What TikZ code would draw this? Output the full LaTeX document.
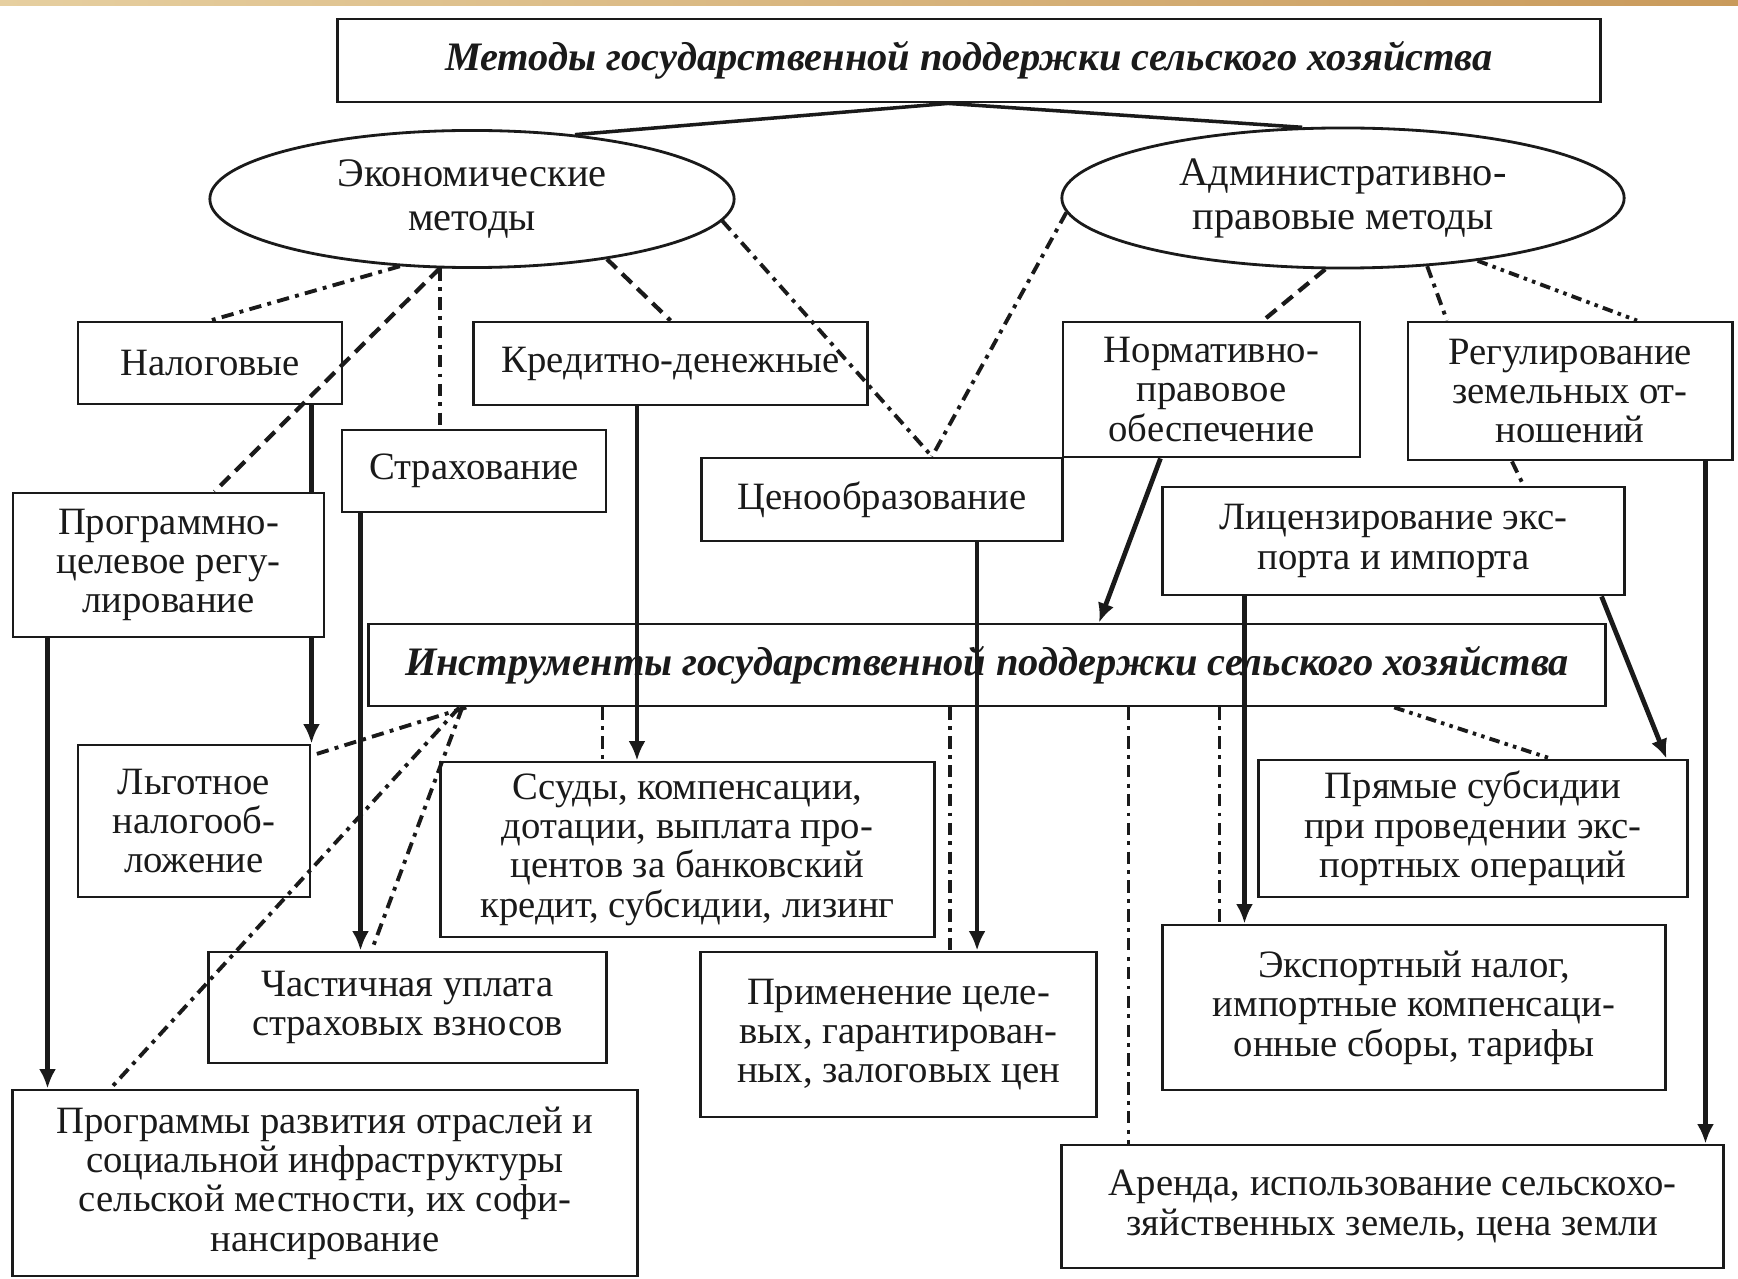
\documentclass[tikz,border=0pt]{standalone}
\usepackage{fontspec}
\setmainfont{Liberation Serif}
\usetikzlibrary{arrows.meta,calc,shapes.geometric,backgrounds}
\definecolor{cink}{HTML}{1A1A1A}
\definecolor{cgoldA}{HTML}{E6CFA0}
\definecolor{cgoldB}{HTML}{F8EDD6}
\definecolor{cgoldC}{HTML}{C99A5B}

\begin{document}
\begin{tikzpicture}[
    x={(0.01cm,0cm)}, y={(0cm,-0.01cm)},
    >={Latex[length=5.5pt,width=4.8pt]},
    bx/.style={draw=cink, line width=0.8pt, inner sep=0pt, align=center, text=cink,
      font=\fontsize{11}{11.2}\selectfont},
    elps/.style={ellipse, draw=cink, line width=0.8pt, inner sep=0pt, align=center, text=cink,
      font=\fontsize{11.5}{12.5}\selectfont},
    head/.style={bx, font=\fontsize{11.5}{12}\selectfont\bfseries\itshape},
    arr/.style={->, line width=1.35pt, draw=cink},
    link/.style={line width=1pt, draw=cink},
    dd/.style={line width=1.1pt, draw=cink, dash pattern=on 3.5pt off 1.8pt on 1.1pt off 1.8pt},
    ds/.style={line width=1.2pt, draw=cink, dash pattern=on 3.8pt off 2.2pt},
    ddd/.style={line width=1.1pt, draw=cink, dash pattern=on 3pt off 1.5pt on 1pt off 1.5pt on 1pt off 1.5pt},
  ]
  \useasboundingbox (0,0) rectangle (1738,1279);
  \shade[left color=cgoldA, middle color=cgoldB, right color=cgoldC] (0,0) rectangle (1738,6);

  % methods
  \node[head, minimum width=12.62cm, minimum height=0.83cm] (top) at (969,60.5)
    {Методы государственной поддержки сельского хозяйства};
  \node[elps, minimum width=5.24cm, minimum height=1.37cm] (econ) at (472,199) {Экономические\\методы};
  \node[elps, minimum width=5.62cm, minimum height=1.40cm] (admin) at (1343,198) {Административно-\\правовые методы};

  \node[bx, minimum width=2.64cm, minimum height=0.82cm] (nalog) at (210,363) {Налоговые};
  \node[bx, minimum width=3.93cm, minimum height=0.83cm] (kred) at (670.5,363.5) {Кредитно-денежные};
  \node[bx, minimum width=2.64cm, minimum height=0.82cm] (strah) at (474,471) {Страхование};
  \node[bx, fill=white, minimum width=3.11cm, minimum height=1.44cm] (progc) at (168.5,565)
    {Программно-\\целевое регу-\\лирование};
  \node[bx, minimum width=3.60cm, minimum height=0.83cm] (cena) at (882,499.5) {Ценообразование};
  \node[bx, minimum width=2.97cm, minimum height=1.35cm] (norm) at (1211.5,389.5)
    {Нормативно-\\правовое\\обеспечение};
  \node[bx, minimum width=3.24cm, minimum height=1.38cm] (zem) at (1570,391)
    {Регулирование\\земельных от-\\ношений};
  \node[bx, minimum width=4.61cm, minimum height=1.08cm] (lic) at (1393.5,541)
    {Лицензирование экс-\\порта и импорта};

  % instruments
  \node[head, minimum width=12.36cm, minimum height=0.82cm] (instr) at (987,665)
    {Инструменты государственной поддержки сельского хозяйства};
  \node[bx, minimum width=2.32cm, minimum height=1.52cm] (lgot) at (194,821) {Льготное\\налогооб-\\ложение};
  \node[bx, minimum width=4.93cm, minimum height=1.75cm] (ssud) at (687.5,849.5)
    {Ссуды, компенсации,\\дотации, выплата про-\\центов за банковский\\кредит, субсидии, лизинг};
  \node[bx, minimum width=4.28cm, minimum height=1.37cm] (pryam) at (1473,828.5)
    {Прямые субсидии\\при проведении экс-\\портных операций};
  \node[bx, minimum width=3.97cm, minimum height=1.11cm] (chast) at (407.5,1007.5)
    {Частичная уплата\\страховых взносов};
  \node[bx, minimum width=3.95cm, minimum height=1.65cm] (prim) at (898.5,1034.5)
    {Применение целе-\\вых, гарантирован-\\ных, залоговых цен};
  \node[bx, minimum width=5.02cm, minimum height=1.65cm] (eksp) at (1414,1007.5)
    {Экспортный налог,\\импортные компенсаци-\\онные сборы, тарифы};
  \node[bx, minimum width=6.24cm, minimum height=1.86cm] (progr) at (325,1183)
    {Программы развития отраслей и\\социальной инфраструктуры\\сельской местности, их софи-\\нансирование};
  \node[bx, minimum width=6.61cm, minimum height=1.23cm] (arenda) at (1392.5,1206.5)
    {Аренда, использование сельскохо-\\зяйственных земель, цена земли};

  \begin{scope}[on background layer]
    \draw[link] ([xshift=-0.21cm]top.south) -- (econ.32);
    \draw[link] ([xshift=-0.21cm]top.south) -- (admin.120);
    % economic methods
    \draw[dd] (econ.223) -- (nalog.north);
    \draw[ds] (econ.245) -- ([xshift=0.46cm]progc.north);
    \draw[dd] (econ.245) -- (econ.245 |- strah.north);
    \draw[ds] (econ.336) -- (kred.north);
    \draw[dd] (econ.355) -- ([xshift=0.5cm]cena.north);
    % administrative methods
    \draw[dd] (admin.183) -- ([xshift=0.5cm]cena.north);
    \draw[ds] (admin.256) -- ([xshift=0.515cm]norm.north);
    \draw[dd] (admin.321) -- ([xshift=-1.23cm]zem.north);
    \draw[ddd] (admin.335) -- ([xshift=0.67cm]zem.north);
    \draw[dd] ([xshift=-0.58cm]zem.south) -- ([xshift=1.3cm]lic.north);
    % methods -> instruments
    \draw[arr] (lgot.north east |- nalog.south) -- (lgot.north east);
    \draw[arr] ([xshift=-0.335cm]kred.south) -- ([xshift=-0.335cm]kred.south |- ssud.north);
    \draw[arr] ([xshift=0.2cm]strah.south west) -- ([xshift=0.2cm]strah.south west |- chast.north);
    \draw[arr] ([xshift=0.36cm]progc.south west) -- ([xshift=0.36cm]progc.south west |- progr.north);
    \draw[arr] ([xshift=0.95cm]cena.south) -- ([xshift=0.95cm]cena.south |- prim.north);
    \draw[arr] ([xshift=-0.51cm]norm.south) -- ([xshift=1.12cm]instr.north);
    \draw[arr] ([xshift=0.83cm]lic.south west) -- ([xshift=0.83cm]lic.south west |- eksp.north);
    \draw[arr] ([xshift=-0.24cm]lic.south east) -- ([xshift=-0.22cm]pryam.north east);
    \draw[arr] ([xshift=-0.28cm]zem.south east) -- ([xshift=-0.28cm]zem.south east |- arenda.north);
    % instruments -> tools
    \draw[dd] ([xshift=0.99cm]instr.south west) -- ([yshift=-0.12cm]lgot.north east);
    \draw[dd] ([xshift=0.95cm]instr.south west) -- ([xshift=1.64cm]chast.north west);
    \draw[dd] ([xshift=0.92cm]instr.south west) -- ([xshift=0.99cm]progr.north west);
    \draw[dd] ([xshift=1.63cm]ssud.north west |- instr.south) -- ([xshift=1.63cm]ssud.north west);
    \draw[dd] ([xshift=2.5cm]prim.north west |- instr.south) -- ([xshift=2.5cm]prim.north west);
    \draw[dd] ([xshift=0.68cm]arenda.north west |- instr.south) -- ([xshift=0.68cm]arenda.north west);
    \draw[dd] ([xshift=0.58cm]eksp.north west |- instr.south) -- ([xshift=0.58cm]eksp.north west);
    \draw[ddd] ([xshift=4.07cm]instr.south) -- ([xshift=2.93cm]pryam.north west);
  \end{scope}
\end{tikzpicture}
\end{document}
